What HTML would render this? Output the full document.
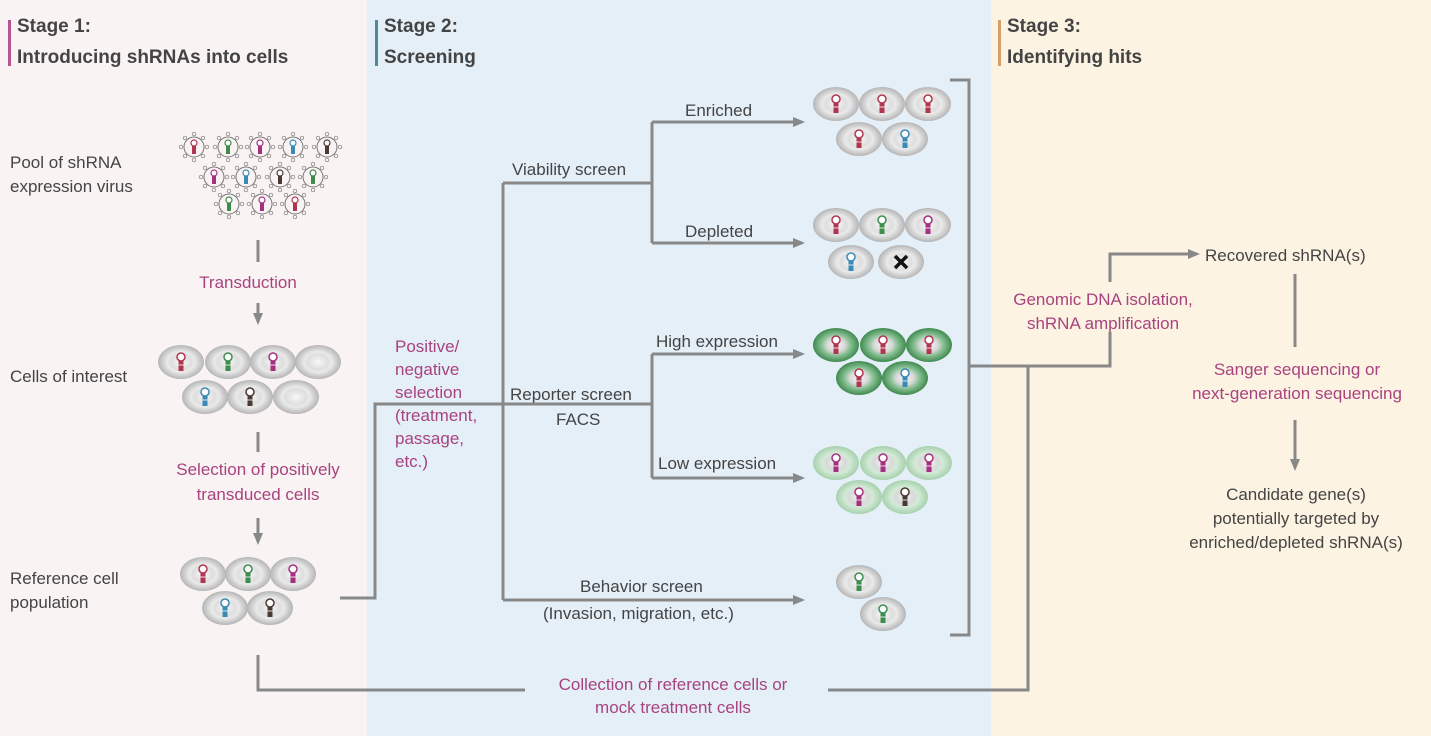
<!DOCTYPE html>
<html><head><meta charset="utf-8"><style>
body{margin:0;width:1431px;height:736px;overflow:hidden;font-family:"Liberation Sans",sans-serif}
text{font-family:"Liberation Sans",sans-serif}
</style></head><body>
<svg width="1431" height="736" viewBox="0 0 1431 736" xmlns="http://www.w3.org/2000/svg">
<defs>
<radialGradient id="gc"><stop offset="0" stop-color="#f7f7f7"/><stop offset="0.45" stop-color="#dedede"/><stop offset="0.6" stop-color="#eaeaea"/><stop offset="1" stop-color="#b5b5b5"/></radialGradient>
<radialGradient id="gh"><stop offset="0" stop-color="#f5f5f5"/><stop offset="0.4" stop-color="#d8d8d8"/><stop offset="0.6" stop-color="#8fc49a"/><stop offset="1" stop-color="#3f8a4f"/></radialGradient>
<radialGradient id="gl"><stop offset="0" stop-color="#f5f5f5"/><stop offset="0.4" stop-color="#d8d8d8"/><stop offset="0.6" stop-color="#d3ead7"/><stop offset="1" stop-color="#a6d1ad"/></radialGradient>
<g id="hp"><circle cx="0" cy="-5" r="4" fill="#fff" stroke="currentColor" stroke-width="1.5"/><rect x="-2.5" y="-1" width="5" height="10" fill="currentColor"/><line x1="-2.5" y1="3" x2="2.5" y2="3" stroke="#fff" stroke-width="0.8"/></g>
<g id="hps"><circle cx="0" cy="-4" r="3" fill="#fff" stroke="currentColor" stroke-width="1.2"/><rect x="-2" y="-1" width="4" height="8" fill="currentColor"/></g>
<ellipse id="cg" cx="0" cy="0" rx="23" ry="17" fill="url(#gc)"/>
<ellipse id="ch" cx="0" cy="0" rx="23" ry="17" fill="url(#gh)"/>
<ellipse id="cl" cx="0" cy="0" rx="23" ry="17" fill="url(#gl)"/>
<g id="vir"><circle r="10" fill="none" stroke="#777" stroke-width="1"/>
<g stroke="#777" stroke-width="0.7" fill="none">
<circle cx="0" cy="-13" r="1.8"/><circle cx="0" cy="13" r="1.8"/><circle cx="-13" cy="0" r="1.8"/><circle cx="13" cy="0" r="1.8"/>
<circle cx="9" cy="9" r="1.8"/><circle cx="-9" cy="9" r="1.8"/><circle cx="9" cy="-9" r="1.8"/><circle cx="-9" cy="-9" r="1.8"/></g></g>
<marker id="ar" markerWidth="12" markerHeight="10" refX="9" refY="5" orient="auto" markerUnits="userSpaceOnUse"><path d="M0,0 L12,5 L0,10z" fill="#888"/></marker>
</defs>
<rect x="0" y="0" width="367" height="736" fill="#f9f3f3"/>
<rect x="367" y="0" width="624" height="736" fill="#e4eff8"/>
<rect x="991" y="0" width="440" height="736" fill="#fdf3e3"/>
<rect x="8" y="20" width="3" height="46" fill="#b5558f"/>
<rect x="375" y="20" width="3" height="46" fill="#4f8a9c"/>
<rect x="998" y="20" width="3" height="46" fill="#d6a165"/>
<g font-weight="bold" font-size="19" fill="#444">
<text x="17" y="32">Stage 1:</text><text x="17" y="63">Introducing shRNAs into cells</text>
<text x="384" y="32">Stage 2:</text><text x="384" y="63">Screening</text>
<text x="1007" y="32">Stage 3:</text><text x="1007" y="63">Identifying hits</text>
</g>
<g font-size="17" fill="#444">
<text x="10" y="168">Pool of shRNA</text><text x="10" y="192">expression virus</text>
<text x="10" y="382">Cells of interest</text>
<text x="10" y="584">Reference cell</text><text x="10" y="608">population</text>
<text x="685" y="116">Enriched</text>
<text x="512" y="175">Viability screen</text>
<text x="685" y="237">Depleted</text>
<text x="656" y="347">High expression</text>
<text x="510" y="400">Reporter screen</text>
<text x="556" y="425">FACS</text>
<text x="658" y="469">Low expression</text>
<text x="580" y="592">Behavior screen</text>
<text x="543" y="619">(Invasion, migration, etc.)</text>
<text x="1205" y="261">Recovered shRNA(s)</text>
<text x="1296" y="500" text-anchor="middle">Candidate gene(s)</text>
<text x="1296" y="524" text-anchor="middle">potentially targeted by</text>
<text x="1296" y="548" text-anchor="middle">enriched/depleted shRNA(s)</text>
</g>
<g font-size="17" fill="#a8437f">
<text x="248" y="288" text-anchor="middle">Transduction</text>
<text x="258" y="475" text-anchor="middle">Selection of positively</text>
<text x="258" y="500" text-anchor="middle">transduced cells</text>
<text x="395" y="352">Positive/</text><text x="395" y="375">negative</text><text x="395" y="398">selection</text>
<text x="395" y="421">(treatment,</text><text x="395" y="444">passage,</text><text x="395" y="467">etc.)</text>
<text x="1103" y="305" text-anchor="middle">Genomic DNA isolation,</text>
<text x="1103" y="329" text-anchor="middle">shRNA amplification</text>
<text x="1297" y="375" text-anchor="middle">Sanger sequencing or</text>
<text x="1297" y="399" text-anchor="middle">next-generation sequencing</text>
<text x="673" y="690" text-anchor="middle">Collection of reference cells or</text>
<text x="673" y="713" text-anchor="middle">mock treatment cells</text>
</g>
<g stroke="#888" stroke-width="3" fill="none">
<line x1="258" y1="240" x2="258" y2="262"/>
<line x1="258" y1="303" x2="258" y2="322" marker-end="url(#ar)"/>
<line x1="258" y1="432" x2="258" y2="452"/>
<line x1="258" y1="518" x2="258" y2="542" marker-end="url(#ar)"/>
<polyline points="340,598 375,598 375,404 652,404"/>
<line x1="503" y1="183" x2="503" y2="600"/>
<line x1="503" y1="183" x2="652" y2="183"/>
<line x1="503" y1="600" x2="802" y2="600" marker-end="url(#ar)"/>
<line x1="652" y1="122" x2="652" y2="243"/>
<line x1="652" y1="122" x2="802" y2="122" marker-end="url(#ar)"/>
<line x1="652" y1="243" x2="802" y2="243" marker-end="url(#ar)"/>
<line x1="652" y1="354" x2="652" y2="478"/>
<line x1="652" y1="354" x2="802" y2="354" marker-end="url(#ar)"/>
<line x1="652" y1="478" x2="802" y2="478" marker-end="url(#ar)"/>
<polyline points="950,80 969,80 969,635 950,635"/>
<polyline points="969,366 1110,366 1110,332"/>
<polyline points="1110,282 1110,254 1197,254" marker-end="url(#ar)"/>
<polyline points="1028,366 1028,690 828,690"/>
<polyline points="258,655 258,690 525,690"/>
<line x1="1295" y1="274" x2="1295" y2="347"/>
<line x1="1295" y1="420" x2="1295" y2="468" marker-end="url(#ar)"/>
</g>
<g>
<use href="#vir" x="194" y="147"/><use href="#hps" x="194" y="147" style="color:#b0364f"/>
<use href="#vir" x="228" y="147"/><use href="#hps" x="228" y="147" style="color:#3d8d4d"/>
<use href="#vir" x="260" y="147"/><use href="#hps" x="260" y="147" style="color:#a5307f"/>
<use href="#vir" x="293" y="147"/><use href="#hps" x="293" y="147" style="color:#3a8ab5"/>
<use href="#vir" x="327" y="147"/><use href="#hps" x="327" y="147" style="color:#4a3a33"/>
<use href="#vir" x="214" y="177"/><use href="#hps" x="214" y="177" style="color:#a5307f"/>
<use href="#vir" x="246" y="177"/><use href="#hps" x="246" y="177" style="color:#3a8ab5"/>
<use href="#vir" x="280" y="177"/><use href="#hps" x="280" y="177" style="color:#4a3a33"/>
<use href="#vir" x="313" y="177"/><use href="#hps" x="313" y="177" style="color:#3d8d4d"/>
<use href="#vir" x="229" y="204"/><use href="#hps" x="229" y="204" style="color:#3d8d4d"/>
<use href="#vir" x="262" y="204"/><use href="#hps" x="262" y="204" style="color:#a5307f"/>
<use href="#vir" x="295" y="204"/><use href="#hps" x="295" y="204" style="color:#b0364f"/>
</g>
<use href="#cg" x="181" y="362"/><use href="#hp" x="181" y="362" style="color:#b0364f"/>
<use href="#cg" x="228" y="362"/><use href="#hp" x="228" y="362" style="color:#3d8d4d"/>
<use href="#cg" x="273" y="362"/><use href="#hp" x="273" y="362" style="color:#a5307f"/>
<use href="#cg" x="318" y="362"/>
<use href="#cg" x="205" y="397"/><use href="#hp" x="205" y="397" style="color:#3a8ab5"/>
<use href="#cg" x="250" y="397"/><use href="#hp" x="250" y="397" style="color:#4a3a33"/>
<use href="#cg" x="296" y="397"/>
<use href="#cg" x="203" y="574"/><use href="#hp" x="203" y="574" style="color:#b0364f"/>
<use href="#cg" x="248" y="574"/><use href="#hp" x="248" y="574" style="color:#3d8d4d"/>
<use href="#cg" x="293" y="574"/><use href="#hp" x="293" y="574" style="color:#a5307f"/>
<use href="#cg" x="225" y="608"/><use href="#hp" x="225" y="608" style="color:#3a8ab5"/>
<use href="#cg" x="270" y="608"/><use href="#hp" x="270" y="608" style="color:#4a3a33"/>
<use href="#cg" x="836" y="104"/><use href="#hp" x="836" y="104" style="color:#b0364f"/>
<use href="#cg" x="882" y="104"/><use href="#hp" x="882" y="104" style="color:#b0364f"/>
<use href="#cg" x="928" y="104"/><use href="#hp" x="928" y="104" style="color:#b0364f"/>
<use href="#cg" x="859" y="139"/><use href="#hp" x="859" y="139" style="color:#b0364f"/>
<use href="#cg" x="905" y="139"/><use href="#hp" x="905" y="139" style="color:#3a8ab5"/>
<use href="#cg" x="836" y="225"/><use href="#hp" x="836" y="225" style="color:#b0364f"/>
<use href="#cg" x="882" y="225"/><use href="#hp" x="882" y="225" style="color:#3d8d4d"/>
<use href="#cg" x="928" y="225"/><use href="#hp" x="928" y="225" style="color:#a5307f"/>
<use href="#cg" x="851" y="262"/><use href="#hp" x="851" y="262" style="color:#3a8ab5"/>
<use href="#cg" x="901" y="262"/>
<g stroke="#111" stroke-width="3.5"><line x1="895" y1="256" x2="907" y2="268"/><line x1="907" y1="256" x2="895" y2="268"/></g>
<use href="#ch" x="836" y="345"/><use href="#hp" x="836" y="345" style="color:#b0364f"/>
<use href="#ch" x="883" y="345"/><use href="#hp" x="883" y="345" style="color:#b0364f"/>
<use href="#ch" x="929" y="345"/><use href="#hp" x="929" y="345" style="color:#b0364f"/>
<use href="#ch" x="859" y="378"/><use href="#hp" x="859" y="378" style="color:#b0364f"/>
<use href="#ch" x="905" y="378"/><use href="#hp" x="905" y="378" style="color:#3a8ab5"/>
<use href="#cl" x="836" y="463"/><use href="#hp" x="836" y="463" style="color:#a5307f"/>
<use href="#cl" x="883" y="463"/><use href="#hp" x="883" y="463" style="color:#a5307f"/>
<use href="#cl" x="929" y="463"/><use href="#hp" x="929" y="463" style="color:#a5307f"/>
<use href="#cl" x="859" y="497"/><use href="#hp" x="859" y="497" style="color:#a5307f"/>
<use href="#cl" x="905" y="497"/><use href="#hp" x="905" y="497" style="color:#4a3a33"/>
<use href="#cg" x="859" y="582"/><use href="#hp" x="859" y="582" style="color:#3d8d4d"/>
<use href="#cg" x="883" y="614"/><use href="#hp" x="883" y="614" style="color:#3d8d4d"/>
</svg>
</body></html>
